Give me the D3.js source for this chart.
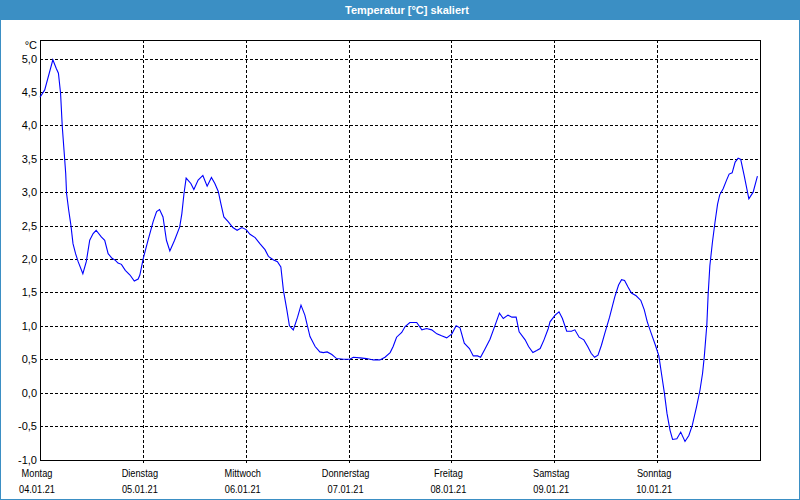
<!DOCTYPE html>
<html>
<head>
<meta charset="utf-8">
<script src="https://cdn.jsdelivr.net/npm/d3@7"></script>
<style>
  html, body { margin: 0; padding: 0; background: #ffffff; }
  svg { display: block; }
  text { font-family: "Liberation Sans", Arial, sans-serif; }
</style>
</head>
<body>
<svg id="chart" width="800" height="500"></svg>
<script>
// ---- data ----
const chartTitle = "Temperatur [°C] skaliert";
const unitLabel = "°C";
const dayNames = ["Montag", "Dienstag", "Mittwoch", "Donnerstag", "Freitag", "Samstag", "Sonntag"];
const dayDates = ["04.01.21", "05.01.21", "06.01.21", "07.01.21", "08.01.21", "09.01.21", "10.01.21"];
const yTickValues = [-1.0, -0.5, 0.0, 0.5, 1.0, 1.5, 2.0, 2.5, 3.0, 3.5, 4.0, 4.5, 5.0];
// hours since Montag 04.01.21 00:00
const hours = [
  0, 1.1, 3.0, 3.8, 4.3, 4.8, 5.2, 5.6, 6.0, 6.2, 6.7, 7.2, 7.7, 8.3, 8.9, 10.0, 10.8, 11.6, 12.4, 13.1,
  14.3, 15.1, 15.9, 16.8, 17.6, 18.2, 19.0, 19.9, 21.0, 22.0, 22.9, 23.3, 24.1,
  25.2, 26.4, 27.2, 27.9, 28.7, 29.5, 30.3, 31.4, 32.6, 33.1, 33.6, 34.1, 35.2, 35.9, 36.9, 38.0, 39.0,
  40.0, 40.8, 41.6, 42.2, 42.9, 43.9, 45.0, 46.0, 47.1, 48.1,
  49.0, 50.2, 51.3, 52.5, 53.3, 54.4, 55.4, 56.2, 56.8, 57.6, 58.2, 59.1, 60.1, 60.9, 61.8, 63.0, 64.2,
  65.3, 66.1, 67.0, 68.1, 69.2, 70.8, 72.3,
  73.1, 74.7, 76.2, 77.8, 79.3, 80.5, 81.7, 82.4, 83.2, 84.4, 85.2, 86.3, 87.9, 89.1, 90.2, 91.4, 92.6,
  93.7, 94.9, 96.1,
  97.1, 98.0, 99.0, 100.2, 101.1, 102.1, 102.8, 103.8, 105.0, 106.2, 107.2, 108.1, 109.2, 110.1, 111.1,
  111.8, 113.2, 114.0, 115.0, 115.9, 116.7, 117.6, 118.6, 119.0, 120.2,
  121.1, 121.9, 122.9, 124.0, 124.8, 125.8, 126.9, 127.8, 128.6, 129.4, 130.2, 131.0, 131.8, 132.9,
  134.1, 135.0, 135.7, 136.4, 137.2, 138.0, 139.1, 140.2, 141.0, 141.7, 142.6, 143.6, 144.4,
  145.0, 145.7, 146.3, 147.0, 147.6, 148.6, 149.5, 150.5, 151.4, 152.2, 153.2, 154.0, 154.6, 155.0,
  155.6, 155.9, 156.3, 156.9, 157.5, 158.1, 158.6, 159.4, 160.2, 160.8, 161.5, 162.2, 162.9, 163.5,
  164.3, 165.4, 166.4, 167.4
];
const temps = [
  4.42, 4.53, 4.98, 4.85, 4.78, 4.48, 3.98, 3.63, 3.28, 2.98, 2.73, 2.51, 2.23, 2.08, 1.96, 1.78, 1.96, 2.28, 2.38, 2.43,
  2.33, 2.28, 2.08, 2.01, 1.98, 1.94, 1.92, 1.83, 1.76, 1.67, 1.70, 1.76, 2.01,
  2.28, 2.56, 2.71, 2.74, 2.63, 2.28, 2.12, 2.28, 2.48, 2.68, 2.98, 3.21, 3.13, 3.04, 3.18, 3.25, 3.09,
  3.22, 3.13, 3.01, 2.83, 2.63, 2.56, 2.47, 2.43, 2.47, 2.44,
  2.37, 2.32, 2.23, 2.14, 2.04, 1.99, 1.96, 1.88, 1.53, 1.24, 1.00, 0.94, 1.13, 1.31, 1.16, 0.84, 0.69,
  0.61, 0.60, 0.61, 0.57, 0.51, 0.50, 0.50,
  0.53, 0.52, 0.51, 0.49, 0.49, 0.53, 0.60, 0.69, 0.83, 0.90, 0.99, 1.05, 1.05, 0.94, 0.96, 0.94, 0.88,
  0.85, 0.82, 0.88,
  1.00, 0.97, 0.74, 0.66, 0.55, 0.55, 0.53, 0.65, 0.80, 1.01, 1.19, 1.11, 1.16, 1.13, 1.13,
  0.91, 0.79, 0.69, 0.60, 0.63, 0.66, 0.79, 0.96, 1.06, 1.16,
  1.21, 1.11, 0.92, 0.92, 0.94, 0.83, 0.79, 0.69, 0.59, 0.53, 0.56, 0.71, 0.89, 1.13,
  1.43, 1.61, 1.69, 1.68, 1.58, 1.49, 1.45, 1.38, 1.24, 1.06, 0.89, 0.71, 0.55,
  0.29, -0.01, -0.31, -0.56, -0.70, -0.69, -0.59, -0.73, -0.64, -0.49, -0.21, 0.04, 0.29, 0.54,
  1.02, 1.47, 1.90, 2.25, 2.55, 2.82, 2.96, 3.05, 3.18, 3.27, 3.29, 3.45, 3.51, 3.49,
  3.25, 2.90, 3.00, 3.24
];

// ---- layout ----
const W = 800, H = 500;
const plot = { left: 40, right: 760, top: 40, bottom: 460 };
const titleH = 20;
const blue = "#3b8fc4";

const svg = d3.select("#chart");
const start = new Date(2021, 0, 4, 0, 0, 0);
const end = new Date(2021, 0, 11, 0, 0, 0);
const data = hours.map((h, i) => ({ t: new Date(start.getTime() + h * 3600e3), v: temps[i] }));
const dayStarts = dayNames.map((d, i) => new Date(2021, 0, 4 + i));

const x = d3.scaleTime().domain([start, end]).range([plot.left, plot.right]);
const y = d3.scaleLinear().domain([-1, 5]).range([459.5, 58.5]);

// background and outer frame
svg.append("rect").attr("x", 0).attr("y", 0).attr("width", W).attr("height", H).attr("fill", "#ffffff");
svg.append("rect").attr("x", 0).attr("y", 0).attr("width", W).attr("height", titleH).attr("fill", blue);
svg.append("rect").attr("x", 0.5).attr("y", 0.5).attr("width", W - 1).attr("height", H - 1)
  .attr("fill", "none").attr("stroke", blue).attr("stroke-width", 1);
svg.append("text").attr("x", 407).attr("y", 14).attr("text-anchor", "middle")
  .attr("fill", "#ffffff").attr("font-weight", "bold").attr("font-size", "11px")
  .text(chartTitle);

// gridlines (horizontal)
const gy = svg.append("g").attr("class", "ygrid");
gy.selectAll("line").data(yTickValues).join("line")
  .attr("x1", plot.left).attr("x2", plot.right)
  .attr("y1", d => Math.round(y(d)) + 0.5).attr("y2", d => Math.round(y(d)) + 0.5)
  .attr("stroke", "#000").attr("stroke-width", 1).attr("stroke-dasharray", "3,2");

// gridlines (vertical)
const gx = svg.append("g").attr("class", "xgrid");
gx.selectAll("line").data(dayStarts.slice(1)).join("line")
  .attr("x1", d => Math.round(x(d)) + 0.5).attr("x2", d => Math.round(x(d)) + 0.5)
  .attr("y1", plot.top).attr("y2", plot.bottom + 3)
  .attr("stroke", "#000").attr("stroke-width", 1).attr("stroke-dasharray", "3,2");

// plot frame
svg.append("rect").attr("x", plot.left + 0.5).attr("y", plot.top + 0.5)
  .attr("width", plot.right - plot.left).attr("height", plot.bottom - plot.top)
  .attr("fill", "none").attr("stroke", "#000").attr("stroke-width", 1);

// y axis labels
const fmt = d3.format(".1f");
svg.append("g").selectAll("text").data(yTickValues).join("text")
  .attr("x", 37).attr("y", d => y(d) + 4)
  .attr("text-anchor", "end").attr("font-size", "11px").attr("fill", "#000")
  .text(d => fmt(d).replace(".", ",").replace("−", "-"));
svg.append("text").attr("x", 37).attr("y", 49).attr("text-anchor", "end")
  .attr("font-size", "11px").attr("fill", "#000").text(unitLabel);

// x axis labels (narrow, Tahoma-like width)
const xl = svg.append("g");
const xg = xl.selectAll("g.lbl").data(dayStarts).join("g").attr("class", "lbl")
  .attr("transform", d => `translate(${x(d) - 3},0) scale(0.84,1)`);
xg.append("text").attr("x", 0).attr("y", 477).attr("text-anchor", "middle")
  .attr("font-size", "11px").attr("fill", "#000")
  .text((d, i) => dayNames[i]);
xg.append("text").attr("x", 0).attr("y", 493).attr("text-anchor", "middle")
  .attr("font-size", "11px").attr("fill", "#000")
  .text((d, i) => dayDates[i]);

// line
const line = d3.line().x(d => x(d.t)).y(d => y(d.v));
svg.append("path").datum(data).attr("d", line)
  .attr("fill", "none").attr("stroke", "#0000ff").attr("stroke-width", 1.1);
</script>
</body>
</html>
